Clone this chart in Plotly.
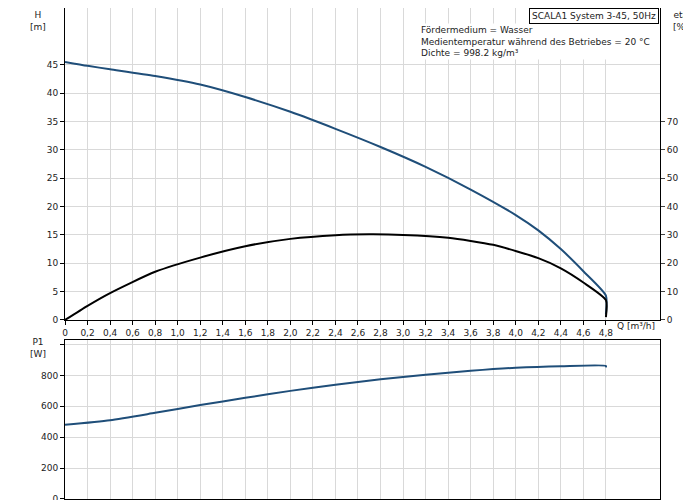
import plotly.graph_objects as go

# Förderhöhe H [m]
q_h = [0, 0.2, 0.4, 0.8, 1.2, 1.6, 2.0, 2.4, 2.8, 3.2, 3.6, 4.0, 4.2, 4.4, 4.6, 4.8, 4.8]
h = [45.5, 44.8, 44.2, 43.0, 41.5, 39.3, 36.7, 33.7, 30.5, 27.0, 23.0, 18.5, 15.8, 12.5, 8.6, 4.3, 1.0]

# Wirkungsgrad eta [%]
q_eta = [0, 0.2, 0.4, 0.8, 1.2, 1.6, 2.0, 2.4, 2.7, 3.0, 3.4, 3.8, 4.2, 4.4, 4.6, 4.8, 4.8]
eta = [0, 5, 9.5, 17, 22, 26, 28.6, 29.9, 30.2, 30.0, 29.0, 26.5, 21.8, 18.2, 13.2, 7.0, 1.0]

# Leistungsaufnahme P1 [W]
q_p = [0, 0.4, 0.8, 1.2, 1.6, 2.0, 2.4, 2.8, 3.2, 3.6, 4.0, 4.4, 4.8, 4.8]
p1 = [480, 510, 558, 608, 655, 700, 740, 775, 805, 830, 850, 860, 862, 852]

x_ticks = [round(i * 0.2, 1) for i in range(25)]
x_labels = [f"{v:.1f}".replace(".", ",") for v in x_ticks]
x_labels[0] = "0"

blue = "#1f4e79"
grid = "#d9d9d9"
font = dict(family="DejaVu Sans", size=9, color="#222")
sm = dict(shape="spline", smoothing=0.6)

fig = go.Figure()
fig.add_trace(go.Scatter(x=q_h, y=h, mode="lines", line=dict(color=blue, width=2, **sm), xaxis="x", yaxis="y"))
fig.add_trace(go.Scatter(x=q_eta, y=eta, mode="lines", line=dict(color="black", width=2, **sm), xaxis="x", yaxis="y2"))
fig.add_trace(go.Scatter(x=q_p, y=p1, mode="lines", line=dict(color=blue, width=2, **sm), xaxis="x2", yaxis="y3"))

axcommon = dict(showgrid=True, gridcolor=grid, zeroline=False, showline=True, linecolor="black",
                ticks="outside", ticklen=4, tickcolor="black", tickfont=font, automargin=False)
fig.update_layout(
    width=691, height=500, showlegend=False,
    paper_bgcolor="white", plot_bgcolor="white",
    margin=dict(l=57, r=39, t=0, b=9),
    xaxis=dict(domain=[0, 1], anchor="y", range=[0, 5.28], tickvals=x_ticks, ticktext=x_labels,
               mirror=True, **axcommon),
    yaxis=dict(domain=[0.3646, 1], range=[0, 55], tickvals=list(range(0, 50, 5)), mirror=True, **axcommon),
    yaxis2=dict(overlaying="y", side="right", range=[0, 110], tickvals=list(range(0, 80, 10)),
                showgrid=False, zeroline=False, ticks="outside", ticklen=4, tickfont=font, automargin=False),
    xaxis2=dict(domain=[0, 1], anchor="y3", range=[0, 5.28], tickvals=x_ticks, showticklabels=False,
                mirror=True, **axcommon),
    yaxis3=dict(domain=[0, 0.324], range=[0, 1030], tickvals=[0, 200, 400, 600, 800, 1000],
                ticktext=["0", "200", "400", "600", "800", ""], mirror=True, **axcommon),
)

ann = [
    dict(x=-0.045, y=1.0, text="H<br>[m]", xanchor="center", yanchor="top"),
    dict(x=1.035, y=1.0, text="eta<br>[%]", xanchor="center", yanchor="top"),
    dict(x=-0.045, y=0.335, text="P1<br>[W]", xanchor="center", yanchor="top"),
    dict(x=0.925, y=0.353, text="Q [m³/h]", xanchor="left", yanchor="middle"),
    dict(x=0.595, y=0.97, text="Fördermedium = Wasser<br>Medientemperatur während des Betriebes = 20 °C<br>Dichte = 998.2 kg/m³",
         xanchor="left", yanchor="top", align="left", bgcolor="white"),
    dict(x=0.999, y=0.999, text="SCALA1 System 3-45, 50Hz", xanchor="right", yanchor="top",
         bgcolor="white", bordercolor="black", borderwidth=1, borderpad=2),
]
for a in ann:
    fig.add_annotation(xref="paper", yref="paper", showarrow=False, font=font, **a)

fig.write_html("out.html")
